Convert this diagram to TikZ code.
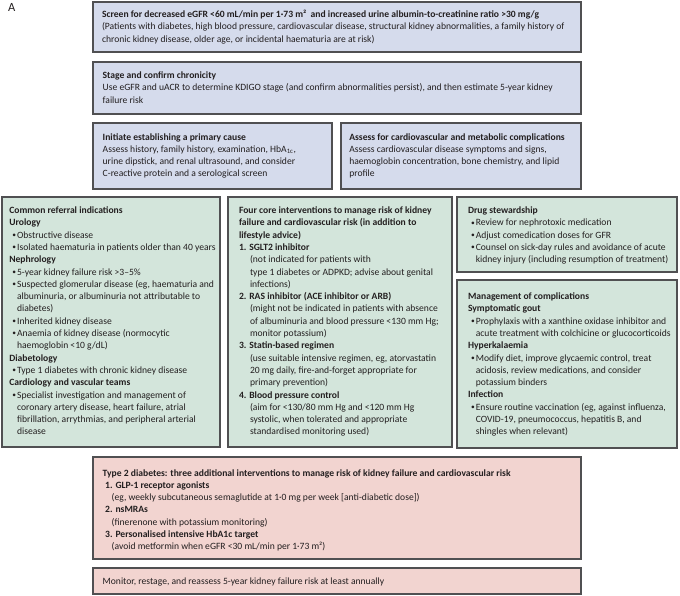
\documentclass[tikz,border=0pt]{standalone}
\usepackage{fontspec}
\setmainfont{Carlito}
\definecolor{bluefill}{HTML}{D5DBEC}
\definecolor{greenfill}{HTML}{D3E5DB}
\definecolor{pinkfill}{HTML}{F2D4D0}
\definecolor{edge}{HTML}{505052}
\definecolor{ink}{HTML}{231F20}
\newcommand\bulit{\makebox[7.8pt][l]{\hspace{3pt}\raisebox{0.6pt}{\fontsize{7.5}{8}\selectfont •}}}
\newcommand\contin{\hspace*{7.8pt}}
\newcommand\subind{\hspace*{11pt}}
\newcommand\tbox[4]{\node[txt] (#1) at (#2,#3) {\begin{minipage}[t]{560pt}\raggedright\strut #4\end{minipage}};}
\tikzset{
  box/.style={draw=edge, line width=1.1pt, anchor=north west, inner sep=0pt, outer sep=0pt},
  bluebox/.style={box, fill=bluefill},
  greenbox/.style={box, fill=greenfill},
  pinkbox/.style={box, fill=pinkfill},
  txt/.style={anchor=north west, inner sep=0pt, outer sep=0pt, text=ink,
    font=\fontsize{9.6}{12.3}\selectfont, yshift=8.61pt},
}
\begin{document}
\begin{tikzpicture}[x=1pt,y=-1pt]
\useasboundingbox (0,0) rectangle (680,595);
\fill[white] (0,0) rectangle (680,595);
% boxes
\node[bluebox, minimum width=488pt, minimum height=50pt] (top) at (93,2) {};
\node[bluebox, minimum width=488pt, minimum height=52pt] (stage) at (93,62) {};
\node[bluebox, minimum width=239pt, minimum height=66pt] (init) at (93,123) {};
\node[bluebox, minimum width=240pt, minimum height=66pt] (assess) at (341,123) {};
\node[greenbox, minimum width=218pt, minimum height=250pt] (refer) at (2,197) {};
\node[greenbox, minimum width=224pt, minimum height=250pt] (core) at (228,197) {};
\node[greenbox, minimum width=220pt, minimum height=75pt] (drug) at (457,197) {};
\node[greenbox, minimum width=220pt, minimum height=168pt] (mgmt) at (457,280) {};
\node[pinkbox, minimum width=488pt, minimum height=102pt] (t2d) at (93,457) {};
\node[pinkbox, minimum width=488pt, minimum height=26pt] (monitor) at (93,568) {};
% label
\node[anchor=base west, inner sep=0pt, text=ink, font=\fontsize{12.5}{14}\selectfont] (lblA) at (8,11.5) {A};
% texts
\tbox{topT}{102}{17.5}{\textbf{Screen for decreased eGFR <60 mL/min per 1·73 m²\ \ and increased urine albumin-to-creatinine ratio >30 mg/g}\\
(Patients with diabetes, high blood pressure, cardiovascular disease, structural kidney abnormalities, a family history of\\
chronic kidney disease, older age, or incidental haematuria are at risk)}
\tbox{stageT}{102.7}{78.5}{\textbf{Stage and confirm chronicity}\\
Use eGFR and uACR to determine KDIGO stage (and confirm abnormalities persist), and then estimate 5-year kidney\\
failure risk}
\tbox{initT}{102.7}{140}{\textbf{Initiate establishing a primary cause}\\
Assess history, family history, examination, HbA\textsubscript{1c},\\
urine dipstick, and renal ultrasound, and consider\\
C-reactive protein and a serological screen}
\tbox{assessT}{349.3}{140}{\textbf{Assess for cardiovascular and metabolic complications}\\
Assess cardiovascular disease symptoms and signs,\\
haemoglobin concentration, bone chemistry, and lipid\\
profile}
\tbox{referT}{9.3}{213.5}{\textbf{Common referral indications}\\
\textbf{Urology}\\
\bulit Obstructive disease\\
\bulit Isolated haematuria in patients older than 40 years\\
\textbf{Nephrology}\\
\bulit 5-year kidney failure risk >3–5\%\\
\bulit Suspected glomerular disease (eg, haematuria and\\
\contin albuminuria, or albuminuria not attributable to\\
\contin diabetes)\\
\bulit Inherited kidney disease\\
\bulit Anaemia of kidney disease (normocytic\\
\contin haemoglobin <10 g/dL)\\
\textbf{Diabetology}\\
\bulit Type 1 diabetes with chronic kidney disease\\
\textbf{Cardiology and vascular teams}\\
\bulit Specialist investigation and management of\\
\contin coronary artery disease, heart failure, atrial\\
\contin fibrillation, arrythmias, and peripheral arterial\\
\contin disease}
\tbox{coreT}{239}{213.5}{\textbf{Four core interventions to manage risk of kidney}\\
\textbf{failure and cardiovascular risk (in addition to}\\
\textbf{lifestyle advice)}\\
\textbf{1. SGLT2 inhibitor}\\
\subind(not indicated for patients with\\
\subind type 1 diabetes or ADPKD; advise about genital\\
\subind infections)\\
\textbf{2. RAS inhibitor (ACE inhibitor or ARB)}\\
\subind(might not be indicated in patients with absence\\
\subind of albuminuria and blood pressure <130 mm Hg;\\
\subind monitor potassium)\\
\textbf{3. Statin-based regimen}\\
\subind(use suitable intensive regimen, eg, atorvastatin\\
\subind 20 mg daily, fire-and-forget appropriate for\\
\subind primary prevention)\\
\textbf{4. Blood pressure control}\\
\subind(aim for <130/80 mm Hg and <120 mm Hg\\
\subind systolic, when tolerated and appropriate\\
\subind standardised monitoring used)}
\tbox{drugT}{468}{213.5}{\textbf{Drug stewardship}\\
\bulit Review for nephrotoxic medication\\
\bulit Adjust comedication doses for GFR\\
\bulit Counsel on sick-day rules and avoidance of acute\\
\contin kidney injury (including resumption of treatment)}
\tbox{mgmtT}{468}{299.5}{\textbf{Management of complications}\\
\textbf{Symptomatic gout}\\
\bulit Prophylaxis with a xanthine oxidase inhibitor and\\
\contin acute treatment with colchicine or glucocorticoids\\
\textbf{Hyperkalaemia}\\
\bulit Modify diet, improve glycaemic control, treat\\
\contin acidosis, review medications, and consider\\
\contin potassium binders\\
\textbf{Infection}\\
\bulit Ensure routine vaccination (eg, against influenza,\\
\contin COVID-19, pneumococcus, hepatitis B, and\\
\contin shingles when relevant)}
\tbox{t2dT}{102.7}{476}{\textbf{Type 2 diabetes: three additional interventions to manage risk of kidney failure and cardiovascular risk}\\
\hspace*{2.5pt}\textbf{1. GLP-1 receptor agonists}\\
\hspace*{9pt}(eg, weekly subcutaneous semaglutide at 1·0 mg per week [anti-diabetic dose])\\
\hspace*{2.5pt}\textbf{2. nsMRAs}\\
\hspace*{9pt}(finerenone with potassium monitoring)\\
\hspace*{2.5pt}\textbf{3. Personalised intensive HbA1c target}\\
\hspace*{9pt}(avoid metformin when eGFR <30 mL/min per 1·73 m²)}
\tbox{monitorT}{102.7}{584.5}{Monitor, restage, and reassess 5-year kidney failure risk at least annually}
\end{tikzpicture}
\end{document}
